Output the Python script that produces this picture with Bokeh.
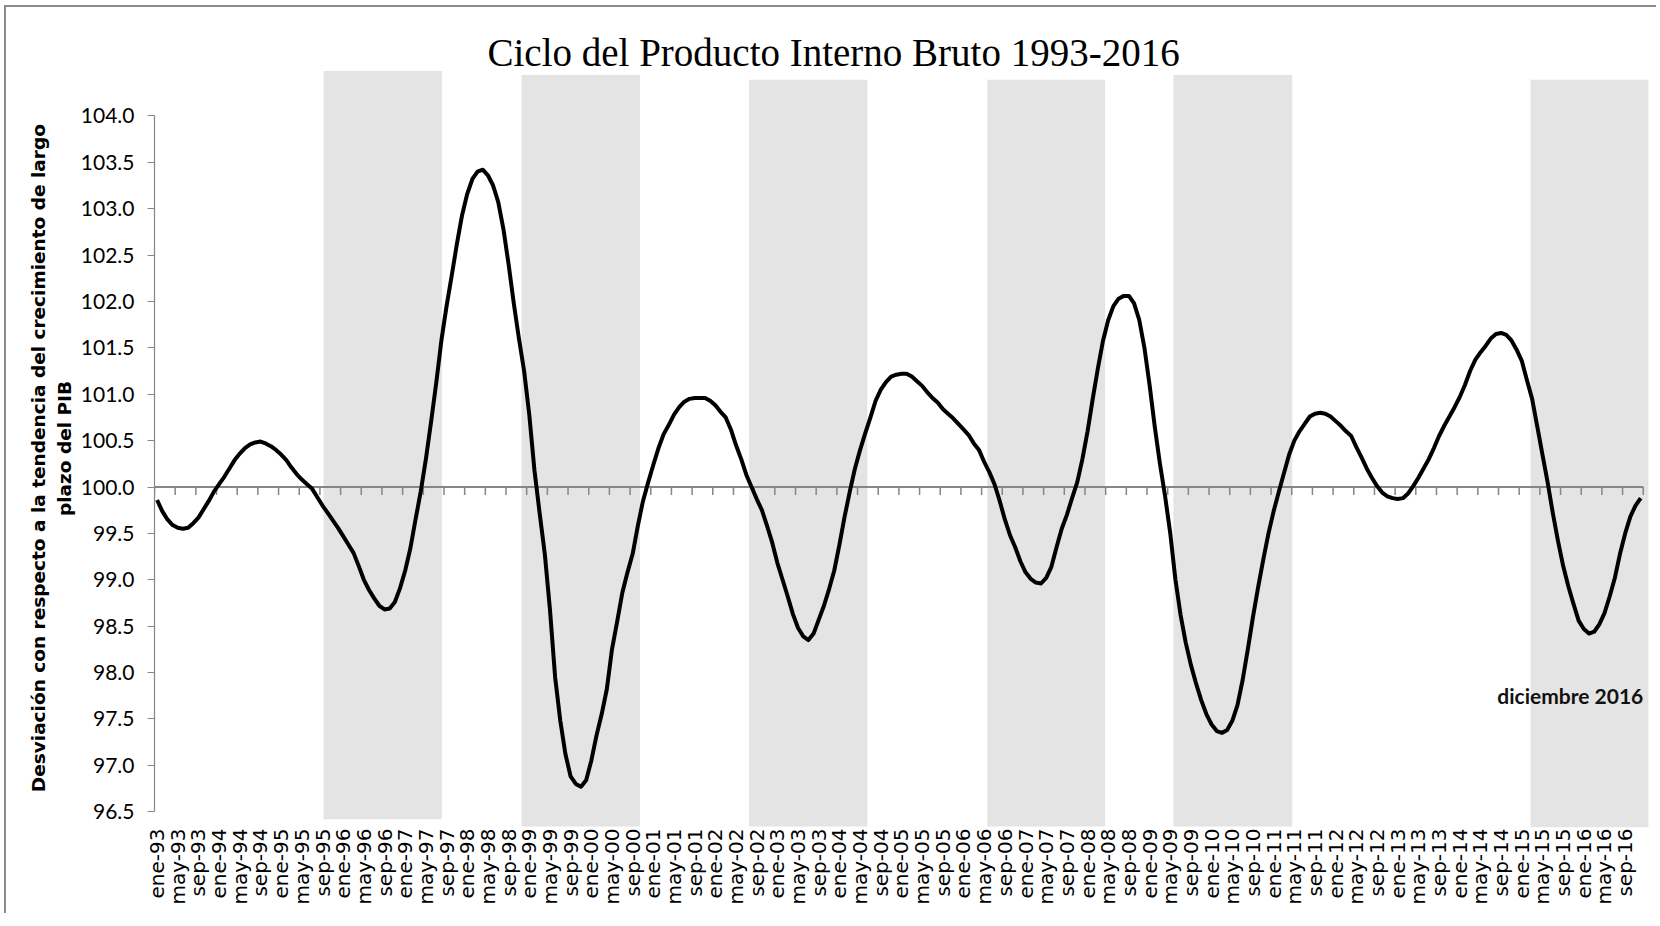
from bokeh.plotting import figure
from bokeh.models import Range1d, FixedTicker, PrintfTickFormatter, Label
from bokeh.embed import file_html
from bokeh.resources import INLINE

# ---------------- data ----------------
month_names = ["ene", "feb", "mar", "abr", "may", "jun", "jul", "ago", "sep", "oct", "nov", "dic"]
years = list(range(1993, 2017))
months = [f"{mn}-{str(y)[2:]}" for y in years for mn in month_names]

ciclo = [
    99.86, 99.74, 99.65, 99.59, 99.56, 99.55, 99.56, 99.61, 99.67, 99.76, 99.85, 99.95,          # 1993
    100.03, 100.11, 100.20, 100.29, 100.36, 100.42, 100.46, 100.48, 100.49, 100.47, 100.44, 100.40,  # 1994
    100.35, 100.29, 100.21, 100.14, 100.08, 100.03, 99.98, 99.89, 99.80, 99.72, 99.64, 99.56,     # 1995
    99.47, 99.38, 99.29, 99.15, 99.00, 98.89, 98.80, 98.72, 98.68, 98.69, 98.76, 98.91,           # 1996
    99.10, 99.34, 99.65, 99.95, 100.30, 100.70, 101.12, 101.58, 101.95, 102.28, 102.62, 102.93,   # 1997
    103.16, 103.32, 103.40, 103.42, 103.36, 103.25, 103.07, 102.78, 102.40, 101.98, 101.60, 101.25,  # 1998
    100.78, 100.18, 99.72, 99.28, 98.68, 97.95, 97.48, 97.12, 96.88, 96.80, 96.77, 96.84,         # 1999
    97.05, 97.32, 97.55, 97.82, 98.25, 98.55, 98.86, 99.08, 99.28, 99.58, 99.85, 100.05,          # 2000
    100.24, 100.42, 100.57, 100.67, 100.78, 100.86, 100.92, 100.95, 100.96, 100.96, 100.96, 100.93,  # 2001
    100.88, 100.81, 100.75, 100.62, 100.45, 100.30, 100.13, 100.00, 99.87, 99.75, 99.58, 99.40,   # 2002
    99.18, 99.00, 98.82, 98.63, 98.48, 98.39, 98.35, 98.42, 98.57, 98.72, 98.90, 99.10,           # 2003
    99.38, 99.68, 99.95, 100.20, 100.40, 100.58, 100.75, 100.93, 101.05, 101.13, 101.19, 101.21,  # 2004
    101.22, 101.22, 101.19, 101.14, 101.09, 101.02, 100.96, 100.91, 100.84, 100.79, 100.74, 100.68,  # 2005
    100.62, 100.56, 100.47, 100.40, 100.27, 100.16, 100.03, 99.85, 99.65, 99.48, 99.35, 99.20,    # 2006
    99.08, 99.01, 98.97, 98.96, 99.02, 99.14, 99.35, 99.55, 99.70, 99.88, 100.05, 100.30,         # 2007
    100.60, 100.95, 101.28, 101.58, 101.80, 101.95, 102.03, 102.06, 102.06, 101.98, 101.80, 101.50,  # 2008
    101.10, 100.65, 100.25, 99.90, 99.50, 99.00, 98.62, 98.32, 98.08, 97.88, 97.70, 97.55,        # 2009
    97.44, 97.37, 97.35, 97.38, 97.48, 97.65, 97.92, 98.25, 98.60, 98.92, 99.22, 99.50,           # 2010
    99.74, 99.95, 100.15, 100.35, 100.50, 100.60, 100.68, 100.76, 100.79, 100.80, 100.79, 100.76,  # 2011
    100.71, 100.66, 100.60, 100.55, 100.43, 100.32, 100.20, 100.10, 100.01, 99.94, 99.90, 99.88,  # 2012
    99.87, 99.88, 99.93, 100.01, 100.10, 100.20, 100.30, 100.42, 100.55, 100.66, 100.76, 100.86,  # 2013
    100.97, 101.10, 101.25, 101.37, 101.45, 101.52, 101.60, 101.65, 101.66, 101.64, 101.58, 101.48,  # 2014
    101.36, 101.15, 100.95, 100.65, 100.35, 100.05, 99.72, 99.42, 99.15, 98.93, 98.74, 98.56,     # 2015
    98.47, 98.42, 98.44, 98.52, 98.64, 98.82, 99.02, 99.28, 99.50, 99.68, 99.80, 99.88,           # 2016
]

# shaded periods (month index on the category axis) and their vertical extent
band_start = [32.7, 71.0, 115.0, 161.1, 197.1, 266.2]
band_end = [55.6, 93.9, 137.9, 183.9, 220.1, 289.0]
band_top = [104.485, 104.44, 104.39, 104.39, 104.44, 104.39]
band_bottom = [96.42, 96.34, 96.34, 96.34, 96.34, 96.33]

y_ticks = [96.5, 97.0, 97.5, 98.0, 98.5, 99.0, 99.5, 100.0, 100.5, 101.0, 101.5, 102.0, 102.5, 103.0, 103.5, 104.0]
baseline = 100.0
title_text = "Ciclo del Producto Interno Bruto 1993-2016"
y_label = "Desviación  con respecto a  la tendencia  del crecimiento de largo\nplazo del PIB"
note_text = "diciembre 2016"
note_y = 97.75

# ---------------- figure ----------------
n = len(months)
GRAY = "#868686"

p = figure(
    frame_width=1496, frame_height=758,
    min_border_left=154, min_border_right=6, min_border_top=69, min_border_bottom=86,
    x_range=Range1d(0, 289.4), y_range=Range1d(96.33, 104.5),
    output_backend="svg", toolbar_location=None,
    background_fill_color="white", border_fill_color=None,
)
p.outline_line_color = None
p.grid.visible = False
p.styles = {"background-color": "white",
            "box-shadow": "inset 4px 5px 0 0 #ffffff, inset 6px 7px 0 0 #8c8c8c"}

# title
p.title.text = title_text
p.title.align = "left"
p.title.offset = 333
p.title.standoff = -8
p.title.text_font = "Liberation Serif"
p.title.text_font_size = "39px"
p.title.text_font_style = "normal"
p.title.text_color = "black"

# shaded bands
p.quad(left=band_start, right=band_end, bottom=band_bottom, top=band_top,
       fill_color="#e4e4e4", line_color=None)

# baseline at 100 with its tick marks
p.line(x=[0, n], y=[baseline, baseline], line_color=GRAY, line_width=2)
tick_x = list(range(0, n + 1, 4))
tick_len = 8 / 92.78
p.segment(x0=tick_x, y0=[baseline] * len(tick_x), x1=tick_x,
          y1=[baseline - tick_len] * len(tick_x), line_color=GRAY, line_width=1.5)

# series
xs = [i + 0.5 for i in range(n)]
p.line(x=xs, y=ciclo, line_color="black", line_width=4, line_join="round")

# note
p.add_layout(Label(x=n, y=note_y, text=note_text, text_align="right", text_baseline="middle",
                   text_font="Lato", text_font_style="bold", text_font_size="21px",
                   text_color="#111111"))

# y axis
yax = p.yaxis[0]
yax.ticker = FixedTicker(ticks=y_ticks)
yax.formatter = PrintfTickFormatter(format="%.1f")
yax.bounds = (y_ticks[0], y_ticks[-1])
yax.axis_line_color = GRAY
yax.axis_line_width = 1.2
yax.major_tick_line_color = GRAY
yax.major_tick_in = 0
yax.major_tick_out = 7
yax.minor_tick_line_color = None
yax.major_label_standoff = 13
yax.major_label_text_font = "Lato"
yax.major_label_text_font_size = "21px"
yax.major_label_text_color = "black"
yax.axis_label = y_label
yax.axis_label_text_font = "DejaVu Sans"
yax.axis_label_text_font_style = "bold"
yax.axis_label_text_font_size = "18.5px"
yax.axis_label_text_line_height = 1.25
yax.axis_label_standoff = 3
yax.axis_label_text_color = "black"

# x axis (labels only)
label_pos = [i + 0.5 for i in range(0, n, 4)]
xax = p.xaxis[0]
xax.ticker = FixedTicker(ticks=label_pos)
xax.major_label_overrides = {i + 0.5: months[i] for i in range(0, n, 4)}
xax.major_label_orientation = 3.14159265 / 2
xax.axis_line_color = None
xax.major_tick_line_color = None
xax.minor_tick_line_color = None
xax.major_tick_out = 0
xax.major_tick_in = 0
xax.major_label_standoff = 1
xax.major_label_text_font = "DejaVu Sans"
xax.major_label_text_font_size = "20px"
xax.major_label_text_color = "black"

open("out.html", "w").write(file_html(p, INLINE))
